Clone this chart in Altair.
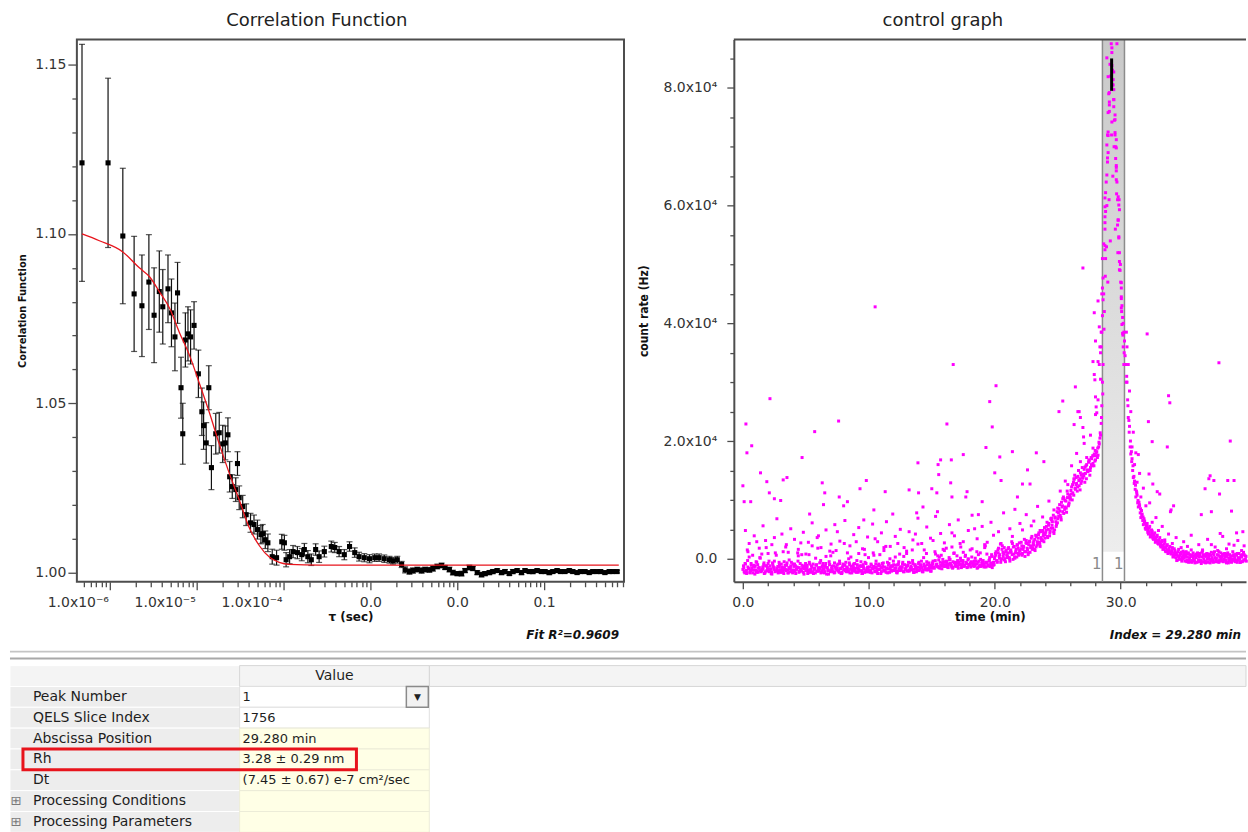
import altair as alt
import numpy as np
import pandas as pd

FONT = "DejaVu Sans"
NARROW = "Liberation Sans Narrow, DejaVu Sans Condensed, DejaVu Sans"
FRAME = "#4d4d4d"
LBL = "#333333"

# ===================== Correlation function panel =====================
# (log10 tau [s], g2(tau), error)
cf_points = [
    (-6.32, 1.1210, 0.035), (-6.02, 1.1210, 0.025), (-5.85, 1.0994, 0.020), (-5.72, 1.0823, 0.017),
    (-5.63, 1.0788, 0.015), (-5.55, 1.0858, 0.014), (-5.49, 1.0760, 0.014), (-5.43, 1.0830, 0.012),
    (-5.39, 1.0785, 0.011), (-5.33, 1.0838, 0.010), (-5.29, 1.0767, 0.010), (-5.25, 1.0696, 0.010),
    (-5.22, 1.0826, 0.009), (-5.18, 1.0546, 0.009), (-5.16, 1.0410, 0.009), (-5.13, 1.0687, 0.008),
    (-5.10, 1.0705, 0.008), (-5.07, 1.0696, 0.008), (-5.03, 1.0730, 0.007), (-4.98, 1.0587, 0.007),
    (-4.94, 1.0475, 0.007), (-4.92, 1.0434, 0.007), (-4.89, 1.0383, 0.006), (-4.86, 1.0546, 0.0065),
    (-4.83, 1.0310, 0.0065), (-4.78, 1.0410, 0.006), (-4.74, 1.0413, 0.006), (-4.70, 1.0380, 0.0055),
    (-4.67, 1.0383, 0.005), (-4.64, 1.0407, 0.005), (-4.62, 1.0283, 0.0045), (-4.59, 1.0254, 0.0035),
    (-4.55, 1.0245, 0.0035), (-4.53, 1.0322, 0.0035), (-4.51, 1.0221, 0.0035), (-4.47, 1.0195, 0.0033),
    (-4.43, 1.0171, 0.0032), (-4.38, 1.0147, 0.0028), (-4.34, 1.0142, 0.0028), (-4.30, 1.0127, 0.0028),
    (-4.26, 1.0112, 0.0027), (-4.24, 1.0115, 0.0027), (-4.21, 1.0097, 0.0026), (-4.18, 1.0088, 0.0026),
    (-4.13, 1.0047, 0.0022), (-4.08, 1.0044, 0.0022), (-4.02, 1.0091, 0.0022), (-3.99, 1.0088, 0.0022),
    (-3.97, 1.0038, 0.0021), (-3.93, 1.0047, 0.0021), (-3.89, 1.0062, 0.0018), (-3.84, 1.0059, 0.0018),
    (-3.79, 1.0053, 0.0018), (-3.76, 1.0068, 0.0018), (-3.72, 1.0047, 0.0018), (-3.68, 1.0038, 0.0017),
    (-3.63, 1.0068, 0.0017), (-3.59, 1.0047, 0.0017), (-3.53, 1.0062, 0.0016), (-3.45, 1.0077, 0.0016),
    (-3.41, 1.0074, 0.0015), (-3.36, 1.0062, 0.0015), (-3.30, 1.0053, 0.0015), (-3.24, 1.0077, 0.0014),
    (-3.18, 1.0059, 0.0014), (-3.13, 1.0047, 0.0013), (-3.07, 1.0044, 0.0012), (-3.01, 1.0041, 0.0012),
    (-2.95, 1.0044, 0.0011), (-2.90, 1.0044, 0.0011), (-2.84, 1.0041, 0.0011), (-2.78, 1.0038, 0.0010),
    (-2.74, 1.0035, 0.0010), (-2.69, 1.0038, 0.0010), (-2.64, 1.0024, 0.0009), (-2.60, 1.0008, 0.0009),
    (-2.55, 1.0003, 0.0008),
    (-2.51, 1.0006, 0.0008), (-2.46, 1.0009, 0.0007), (-2.41, 1.0006, 0.0008), (-2.37, 1.0009, 0.0007),
    (-2.32, 1.0008, 0.0007), (-2.28, 1.0012, 0.0008), (-2.23, 1.0018, 0.0007), (-2.18, 1.0021, 0.0007),
    (-2.14, 1.0015, 0.0006), (-2.09, 1.0009, 0.0007), (-2.05, 1.0000, 0.0007), (-2.00, 0.9997, 0.0006),
    (-1.95, 0.9997, 0.0007), (-1.91, 1.0006, 0.0006), (-1.86, 1.0015, 0.0007), (-1.82, 1.0012, 0.0006),
    (-1.77, 1.0000, 0.0006), (-1.72, 0.9994, 0.0007), (-1.68, 0.9997, 0.0006), (-1.63, 1.0000, 0.0006),
    (-1.59, 1.0003, 0.0006), (-1.54, 1.0006, 0.0005), (-1.49, 1.0000, 0.0006), (-1.45, 1.0003, 0.0006),
    (-1.40, 0.9997, 0.0005), (-1.36, 1.0003, 0.0006), (-1.31, 1.0006, 0.0005), (-1.26, 1.0000, 0.0006),
    (-1.22, 1.0006, 0.0005), (-1.17, 1.0003, 0.0005), (-1.13, 1.0003, 0.0006), (-1.08, 1.0006, 0.0005),
    (-1.03, 1.0003, 0.0005), (-0.99, 1.0003, 0.0005), (-0.94, 1.0000, 0.0006), (-0.90, 1.0003, 0.0005),
    (-0.85, 1.0006, 0.0005), (-0.81, 1.0003, 0.0005), (-0.76, 1.0003, 0.0004), (-0.71, 1.0006, 0.0005),
    (-0.67, 1.0003, 0.0005), (-0.62, 1.0000, 0.0004), (-0.58, 1.0003, 0.0005), (-0.53, 1.0003, 0.0005),
    (-0.48, 1.0000, 0.0004), (-0.44, 1.0003, 0.0005), (-0.39, 1.0003, 0.0004), (-0.35, 1.0003, 0.0005),
    (-0.30, 1.0000, 0.0004), (-0.25, 1.0003, 0.0004), (-0.21, 1.0003, 0.0005), (-0.16, 1.0003, 0.0004),
]

fit_log_tau = [-6.32, -6.12, -5.85, -5.66, -5.54, -5.43, -5.31, -5.20, -5.08, -4.97, -4.85,
               -4.74, -4.62, -4.51, -4.39, -4.28, -4.16, -4.05, -3.93, -3.59, -0.14]
fit_value = [1.100, 1.098, 1.0947, 1.090, 1.0873, 1.083, 1.078, 1.071, 1.064, 1.056, 1.047,
             1.038, 1.029, 1.0215, 1.013, 1.008, 1.0045, 1.003, 1.0024, 1.0022, 1.0022]
fit_r2 = 0.9609

# ===================== Control graph panel =====================
# dense traces, one row per minute, 10 samples per minute, in units of 100 Hz
grid_step = 0.1
band_a_rows = [
    [-18, -22, -9, -25, -14, 3, -20, -16, -24, -11],
    [-19, -6, -23, -15, -21, 8, -17, -25, -12, -20],
    [-8, -22, -18, -26, -13, -4, -21, -16, -24, -10],
    [-19, -23, 12, -15, -20, -7, -24, -17, -12, -22],
    [-19, -9, -25, -14, 5, -21, -18, -11, -23, -16],
    [-20, -14, -23, -9, -18, 22, -25, -16, -11, -21],
    [-19, -7, -24, -13, -17, -22, 4, -15, -26, -10],
    [-20, -18, -12, -23, 14, -16, -21, -8, -25, -14],
    [-19, -11, -22, -17, 0, -24, -13, -20, -9, -18],
    [-23, -15, 9, -21, -12, -25, -17, -6, -22, -14],
    [-19, -23, -11, -17, 6, -21, -14, -25, -9, -18],
    [-22, -13, 19, -20, -16, -24, -8, -15, -21, -12],
    [-19, 3, -23, -10, -17, -20, -14, -6, -22, -18],
    [13, -11, -21, -16, -19, -8, -23, -13, -17, 25],
    [-20, -10, -15, -22, -12, -18, -5, -19, -14, -21],
    [-12, -4, -16, 8, -9, -14, 3, -11, -17, -6],
    [14, -13, -8, -15, -2, -10, 20, -14, -7, -12],
    [5, -16, -9, -3, -13, 11, -11, -6, -15, 0],
    [-10, -14, 17, -8, -12, -4, -16, 7, -11, -13],
    [-5, -9, 24, -14, -7, -12, 2, -10, -15, -6],
    [3, 12, -6, 18, 7, -2, 22, 9, 0, 14],
    [5, 19, -4, 11, 26, 8, 1, 16, 23, 6],
    [13, 28, 9, 20, 4, 31, 15, 24, 11, 35],
    [19, 30, 14, 38, 25, 44, 21, 33, 48, 29],
    [41, 55, 36, 60, 47, 66, 52, 43, 71, 58],
    [68, 85, 74, 96, 80, 102, 88, 79, 110, 95],
    [104, 122, 112, 135, 118, 128, 140, 124, 146, 132],
    [138, 152, 145, 160, 148, 166, 155, 170, 162, 178],
    [168, 182, 176, 195, 210, 260, 330, 420, 510, 600],
    [690, 760, 820, 860, 805, 745, 700, 640, 575, 520],
    [470, 430, 400, 370, 330, 300, 240, 225, 178, 170],
    [138, 132, 105, 108, 88, 90, 70, 76, 58, 64],
    [50, 60, 42, 55, 38, 47, 33, 44, 30, 40],
    [25, 36, 20, 31, 17, 28, 12, 24, 15, 21],
    [8, 19, 4, 14, 10, -2, 16, 6, 11, 0],
    [9, -4, 12, 3, -6, 7, 15, -3, 5, -7],
    [2, 10, -5, 6, -8, 13, 0, -4, 8, -6],
    [4, -7, 11, -2, 7, -5, 1, 14, -6, 3],
    [-4, 8, -1, 5, -7, 10, -3, 2, -6, 12],
    [0, -5, 6, -2, 9, -6, 3, -4, 7, -1],
]
# sampled half a step later
band_b_rows = [
    [-12, -24, -20, 15, -17, -23, -8, -19, -13, -26],
    [-5, -21, -16, 2, -22, -18, -10, -24, 19, -15],
    [-21, -12, -25, -7, -18, -22, 6, -20, -14, -23],
    [-9, -17, -25, -11, 24, -19, -15, -22, -6, -24],
    [-13, -20, -17, 10, -23, -8, -21, -16, -26, -12],
    [-16, -25, 7, -19, -12, -22, -17, -24, -10, 18],
    [-21, -15, -23, -8, -18, -13, -26, -20, -5, -22],
    [-16, 11, -24, -14, -19, -9, -23, -17, -25, -12],
    [26, -20, -15, -22, -7, -18, -24, -11, -21, -16],
    [-3, -23, -19, -13, -25, -10, 16, -20, -17, -22],
    [-14, -20, -24, 10, -16, -9, -22, -18, -12, -25],
    [-15, -7, -21, 21, -17, -11, -23, -19, -13, -4],
    [-20, -16, -24, -9, 8, -18, -14, -22, -10, -17],
    [-21, -6, -19, -13, 15, -23, -11, -16, -20, -8],
    [-18, -12, -22, 2, -15, -19, -10, -17, -13, -21],
    [-7, -15, 12, -10, -13, -2, -16, 6, -8, -12],
    [-5, 18, -14, -9, -1, -11, -16, 9, -6, -13],
    [-3, -10, 26, -15, -8, -12, 4, -7, -14, -10],
    [15, -5, -11, -13, 1, -9, -15, -4, 10, -12],
    [-8, -14, 22, -6, -11, -3, -13, 7, -9, -10],
    [9, -3, 15, 4, 25, 0, 11, 19, -5, 7],
    [17, 2, 13, 29, -1, 21, 10, 3, 18, 27],
    [8, 22, 16, 33, 12, 26, 7, 29, 19, 38],
    [27, 16, 40, 23, 35, 28, 46, 31, 39, 53],
    [45, 62, 50, 39, 68, 57, 74, 49, 63, 80],
    [78, 92, 70, 88, 105, 84, 98, 115, 90, 108],
    [116, 100, 130, 142, 126, 115, 150, 136, 128, 155],
    [144, 130, 158, 150, 164, 142, 172, 158, 175, 166],
    [180, 172, 190, 205, 230, 300, 450, 560, 640, 720],
    [790, 840, 875, 830, 780, 720, 665, 610, 545, 490],
    [445, 410, 385, 345, 300, 270, 235, 190, 182, 150],
    [140, 118, 115, 95, 96, 78, 82, 65, 68, 52],
    [56, 45, 52, 37, 49, 35, 41, 28, 37, 26],
    [32, 22, 29, 16, 25, 13, 22, 9, 18, 11],
    [14, 3, 17, 7, -3, 12, 2, 9, -4, 13],
    [1, 11, -5, 8, -2, 4, -6, 10, -3, 6],
    [-6, 7, 3, -3, 11, -5, 5, -7, 9, 1],
    [8, -3, 2, -6, 12, 0, -5, 6, -2, 10],
    [3, -5, 9, -2, 4, -7, 7, 0, -4, 5],
    [-3, 8, -6, 2, -1, 6, -5, 11, -2, 4],
]
# sampled three quarters of a step later
band_c_rows = [
    [-15, -8, -21, -3, -17, -24, -11, 6, -19, -13],
    [-23, -10, -16, 1, -20, -14, -7, -22, -12, -18],
    [-4, -17, -23, -9, -15, 10, -20, -13, -6, -19],
    [-14, -21, -5, -18, -11, -24, -2, -16, -20, -9],
    [-22, -12, -18, -4, -15, -20, 7, -13, -17, -8],
    [-11, -19, -6, -23, -14, -9, -18, 1, -21, -15],
    [-17, -3, -20, -12, -24, -8, -15, -19, -10, 5],
    [-13, -22, -7, -17, -11, -20, -4, -16, -23, -9],
    [-18, -6, -14, -21, -10, 3, -19, -15, -8, -22],
    [-10, -18, -12, -5, -20, -14, -23, -8, -16, 2],
    [-21, -9, -16, -13, -22, -4, -18, -11, 7, -15],
    [-8, -19, -14, -23, -6, -17, 0, -12, -20, -10],
    [-16, -11, -21, -5, -14, -19, -9, 4, -17, -13],
    [-12, -20, -7, -15, -3, -18, -10, -22, -14, -6],
    [-15, -4, -19, -9, -13, 9, -17, -7, -11, -16],
    [-9, -14, -3, -11, 5, -15, -6, -12, -1, -13],
    [-10, -4, -12, 2, -8, -14, -5, 10, -11, -7],
    [-12, -6, 1, -10, -3, -13, 6, -8, -2, -11],
    [-7, 3, -11, -4, -9, 12, -6, -13, -1, -8],
    [-3, -10, -6, 8, -12, -2, -7, 4, -11, 0],
    [6, -4, 10, 1, -6, 16, 4, -2, 12, 2],
    [10, 0, 15, 7, 20, 3, 13, 24, 9, 14],
    [17, 6, 21, 12, 27, 18, 10, 30, 22, 16],
    [24, 33, 20, 29, 41, 26, 36, 31, 43, 35],
    [49, 38, 57, 44, 52, 63, 46, 69, 55, 61],
    [72, 81, 66, 90, 77, 99, 86, 104, 92, 101],
    [110, 126, 108, 120, 138, 122, 133, 117, 142, 137],
    [141, 156, 136, 151, 168, 150, 160, 175, 158, 184],
    [175, 188, 198, 214, 240, 280, 390, 480, 530, 470],
    [610, 540, 720, 650, 700, 560, 620, 520, 610, 500],
    [420, 380, 350, 330, 310, 260, 215, 200, 165, 158],
    [128, 125, 112, 99, 92, 85, 74, 71, 62, 60],
    [53, 48, 46, 41, 43, 38, 36, 33, 31, 29],
    [28, 26, 23, 21, 19, 18, 15, 14, 12, 10],
    [11, 6, 9, 2, 7, 4, -1, 8, 3, 5],
    [4, 7, -2, 10, 1, -5, 6, 2, -4, 8],
    [5, -2, 9, -4, 3, 7, -6, 4, -1, 6],
    [-1, 6, -4, 9, 2, -3, 7, -5, 4, 0],
    [6, -2, 3, -5, 8, 1, -4, 5, -1, 7],
    [2, -3, 9, 0, -6, 4, 7, -2, 5, -4],
]
# (time [min], count rate [kHz])
mid_pts = [
    (0.2, 4.8), (0.5, 2.6), (0.9, 3.9), (1.3, 1.8), (1.6, 5.6), (1.8, 3.1), (2.3, 2.4), (2.7, 6.8),
    (3.1, 4.2), (3.4, 2.0), (3.8, 5.1), (4.1, 3.3), (4.4, 1.6), (4.8, 4.5), (5.2, 2.8), (5.5, 6.1),
    (5.9, 3.6), (6.2, 1.9), (6.6, 4.9), (7.0, 2.5), (7.3, 5.8), (7.7, 3.0), (8.1, 6.5), (8.5, 2.2),
    (8.8, 4.1), (9.2, 5.3), (9.5, 1.7), (9.9, 3.7), (10.3, 5.9), (10.7, 2.9), (11.0, 4.4), (11.4, 6.3),
    (11.7, 2.1), (12.1, 3.8), (12.5, 5.0), (12.8, 1.9), (13.2, 4.6), (13.5, 3.2), (13.9, 6.9), (14.2, 2.6),
    (14.6, 5.4), (14.9, 3.5), (15.3, 7.2), (15.7, 4.3), (16.0, 2.7), (16.4, 5.8), (16.8, 3.9), (17.1, 6.6),
    (17.5, 2.9), (17.9, 4.8), (18.2, 7.4), (18.6, 3.4), (19.0, 5.5), (19.4, 2.8), (19.7, 6.2), (20.3, 4.6),
    (20.7, 7.8), (21.2, 5.1), (21.6, 8.4), (22.0, 6.0), (22.5, 7.5), (22.9, 5.6), (23.4, 8.9), (23.8, 7.1),
    (24.3, 9.8), (24.7, 8.3), (25.2, 11.5), (25.6, 13.2), (26.1, 15.8), (26.5, 17.9), (27.1, 19.6),
    (27.6, 21.0), (28.0, 24.5), (28.2, 27.0), (28.3, 33.0), (28.4, 30.5), (28.45, 36.0), (30.45, 38.5),
    (30.5, 36.0), (30.6, 33.0), (30.7, 28.5), (30.8, 25.0), (31.0, 21.5), (31.2, 18.0), (31.5, 14.5),
    (31.8, 12.0), (32.3, 9.5), (32.8, 7.0), (33.3, 5.5), (33.8, 4.2), (34.4, 3.6), (35.0, 2.9),
    (35.6, 4.0), (36.2, 2.4), (36.9, 3.3), (37.5, 2.0), (38.1, 3.8), (38.6, 2.5), (39.3, 3.1), (39.8, 2.2),
    (0.4, 1.2), (1.1, 2.9), (2.0, 0.9), (2.5, 3.6), (3.6, 1.1), (4.6, 2.7), (5.0, 0.8), (6.0, 3.9),
    (6.9, 1.3), (7.5, 4.6), (8.3, 1.0), (9.0, 2.9), (9.7, 0.7), (10.5, 3.4), (11.2, 1.4), (12.3, 2.6),
    (13.0, 0.9), (13.7, 4.2), (14.4, 1.5), (15.1, 3.1), (15.9, 1.6), (16.6, 4.4), (17.3, 2.0), (18.4, 5.1),
    (19.2, 1.9), (19.9, 4.0), (20.5, 2.6), (21.4, 3.8), (22.2, 4.9), (23.1, 6.4), (23.6, 4.8), (24.5, 6.9),
    (25.0, 8.6), (25.4, 10.2), (25.8, 12.6), (26.3, 13.6), (26.8, 16.5), (27.3, 17.2), (27.8, 18.8),
    (30.9, 19.0), (31.1, 16.0), (31.3, 13.0), (31.6, 10.5), (32.0, 9.0), (32.5, 6.2), (33.0, 4.8),
    (33.5, 3.2), (34.1, 2.6), (34.8, 1.9), (35.3, 2.1), (36.5, 1.5), (37.2, 2.4), (37.8, 1.2),
    (38.4, 1.7), (39.0, 2.3), (39.6, 1.4),
]
spike_pts = [
    (0.0, 12.4), (0.1, 9.7), (0.24, 22.9), (0.32, 18.0), (0.62, 9.7), (0.7, 19.2), (1.4, 14.6),
    (1.9, 13.1), (2.1, 11.2), (2.15, 27.2), (2.5, 10.2), (3.0, 9.9), (3.2, 13.4), (3.5, 13.8),
    (4.7, 17.2), (5.3, 7.6), (5.7, 21.6), (6.3, 12.9), (6.4, 9.2), (6.5, 11.2), (7.6, 23.4),
    (7.65, 10.5), (8.0, 9.0), (8.3, 9.7), (9.3, 11.9), (9.6, 6.6), (9.8, 13.3), (10.4, 8.3),
    (10.5, 42.8), (11.3, 11.4), (11.9, 7.6), (13.2, 11.7), (13.8, 7.8), (13.9, 16.3), (13.95, 11.2),
    (14.3, 8.8), (15.0, 11.9), (15.4, 11.2), (15.45, 8.0), (15.5, 16.0), (15.55, 14.3), (15.7, 16.8),
    (16.2, 22.9), (16.5, 12.9), (16.55, 16.8), (16.6, 10.5), (16.7, 33.0), (17.5, 17.7), (17.7, 10.5),
    (17.8, 11.4), (18.7, 7.5), (19.0, 9.7), (19.3, 18.9), (19.6, 26.7), (19.8, 22.4), (20.0, 14.6),
    (20.1, 29.4), (20.4, 17.3), (20.5, 13.3), (21.4, 18.2), (21.8, 10.5), (22.2, 12.7), (22.6, 15.1),
    (22.8, 12.7), (23.3, 18.0), (23.9, 16.5), (25.1, 25.0), (25.4, 26.8), (26.3, 22.8), (26.4, 29.2),
    (26.6, 25.0), (26.7, 25.0), (26.8, 24.0), (27.0, 22.3), (27.0, 49.4), (27.05, 20.7), (27.8, 33.5),
    (27.9, 31.3), (27.95, 30.4), (28.0, 27.5), (28.05, 25.8), (28.1, 24.8), (28.2, 33.5), (31.4, 17.7),
    (32.1, 38.2), (32.2, 23.3), (32.25, 14.4), (32.5, 19.9), (32.55, 12.7), (32.9, 11.4), (33.1, 11.0),
    (33.7, 19.0), (33.8, 27.7), (33.9, 26.5), (33.95, 8.0), (34.0, 8.3), (34.2, 9.0), (36.4, 7.5),
    (36.7, 11.9), (37.0, 13.6), (37.1, 14.1), (37.2, 8.0), (37.4, 13.3), (37.8, 33.3), (37.85, 11.0),
    (37.9, 4.3), (38.5, 13.3), (38.7, 20.0), (38.8, 8.1), (39.0, 13.3), (39.2, 4.4), (39.7, 4.6),
]
peak_pts = [
    (27.9, 41.8), (28.0, 37.0), (28.2, 43.8), (28.3, 39.4), (28.35, 36.0), (28.4, 35.0), (28.45, 38.5),
    (28.5, 45.0), (28.5, 38.5), (28.55, 51.0), (28.55, 46.0), (28.55, 41.3), (28.6, 47.7), (28.6, 44.0),
    (28.65, 53.5), (28.75, 61.3), (28.75, 59.8), (28.75, 58.1), (28.75, 57.1), (28.75, 53.2),
    (28.75, 52.5), (28.8, 62.2), (28.8, 59.0), (28.9, 85.1), (28.9, 70.3), (28.9, 65.2), (28.95, 68.1),
    (28.95, 67.4), (29.0, 81.9), (29.0, 75.8), (29.0, 72.5), (29.0, 71.9), (29.1, 79.2), (29.1, 77.6),
    (29.1, 77.1), (29.3, 86.8), (29.3, 83.8), (29.3, 74.2), (29.35, 80.5), (29.4, 81.4), (29.45, 82.7),
    (29.45, 79.7), (29.45, 78.0), (29.45, 76.8), (29.55, 75.4), (29.55, 74.6), (29.55, 72.4),
    (29.6, 68.0), (29.65, 71.2), (29.65, 69.8), (29.65, 66.8), (29.65, 65.9), (29.65, 64.4), (29.7, 87.5),
    (29.75, 56.7), (29.8, 61.5), (29.8, 57.6), (29.85, 60.1), (29.85, 54.7), (29.9, 59.3), (29.9, 50.5),
    (29.9, 49.1), (30.05, 46.9), (30.05, 46.0), (30.05, 44.2), (30.05, 42.6), (30.1, 39.8), (30.15, 38.3),
    (30.2, 36.0), (30.25, 33.0),
]
peak_start, peak_end = 28.55, 30.30
peak_label = "1"
index_time = 29.280
index_lo, index_hi = 79.5, 85.0   # kHz

# ===================== Results table =====================
tbl_labels = ["", "Peak Number", "QELS Slice Index", "Abscissa Position", "Rh", "Dt",
              "Processing Conditions", "Processing Parameters"]
tbl_values = ["Value", "1", "1756", "29.280 min", "3.28 \u00b1 0.29 nm",
              "(7.45 \u00b1 0.67) e-7 cm\u00b2/sec", "", ""]

# ===================== build =====================
def ax(**kw):
    base = dict(grid=False, labelFont=FONT, labelFontSize=14, labelColor=LBL, tickColor=FRAME,
                tickWidth=1.3, labelOverlap=False, labelFlush=False, titleColor="#111111")
    base.update(kw)
    return alt.Axis(**base)

# ---- left panel ----
W1, H1 = 548, 543
tau_lo, tau_hi = 10 ** -6.379, 10 ** -0.08
cf = pd.DataFrame(cf_points, columns=["lt", "g", "err"])
cf["tau"] = np.power(10.0, cf["lt"])
cf["lo"] = cf["g"] - cf["err"]
cf["hi"] = cf["g"] + cf["err"]
fit = pd.DataFrame({"tau": np.power(10.0, fit_log_tau), "g": fit_value})

tau_ticks = [k * 10.0 ** d for d in range(-7, 0) for k in range(1, 10)]
tau_ticks = [v for v in tau_ticks if tau_lo <= v <= tau_hi]
g_ticks = [round(1.0 + 0.01 * i, 2) for i in range(16)]

LOGV = "(log(datum.value)/LN10)"
DEC = f"abs({LOGV} - round({LOGV})) < 0.01"
x_lab = (f"({DEC}) ? (datum.value < 0.0005 ? ('1.0x10' + (round({LOGV}) == -6 ? '\u207b\u2076' : "
         f"round({LOGV}) == -5 ? '\u207b\u2075' : '\u207b\u2074')) : format(datum.value, '.1f')) : ''")
x_ax_l = ax(values=tau_ticks, labelExpr=x_lab,
            tickSize={"condition": {"test": DEC, "value": 8}, "value": 5},
            labelOffset={"condition": {"test": "datum.value < 0.0005", "value": -32}, "value": 0},
            labelPadding=6, domain=False, title="\u03c4 (sec)", titleFont=FONT, titleFontSize=12,
            titleFontWeight="bold", titlePadding=5, minExtent=25, maxExtent=25)
G_MAJ = "round(datum.value*100) % 5 == 0"
y_ax_l = ax(values=g_ticks, labelExpr=f"{G_MAJ} ? format(datum.value, '.2f') : ''",
            tickSize={"condition": {"test": G_MAJ, "value": 9}, "value": 5},
            labelPadding=2, domain=False, title="Correlation Function", titleFont=NARROW,
            titleFontSize=11, titleFontWeight="bold", titlePadding=7, minExtent=42, maxExtent=42)

xs = alt.Scale(type="log", domain=[tau_lo, tau_hi], nice=False)
ys = alt.Scale(domain=[0.9973, 1.1574], nice=False, zero=False)
xL = alt.X("tau:Q", scale=xs, axis=x_ax_l)

one = pd.DataFrame({"k": [0]})
spacer_l = alt.Chart(one).mark_rule(color="white", strokeWidth=1).encode(
    x=alt.value(-67), y=alt.value(0), y2=alt.value(20))
bars = alt.Chart(cf).mark_rule(color="#111111", strokeWidth=1.2).encode(
    x=xL, y=alt.Y("lo:Q", scale=ys, axis=y_ax_l), y2="hi:Q")
cap_lo = alt.Chart(cf).mark_tick(color="#111111", orient="horizontal", size=6, thickness=1.2).encode(
    x=xL, y=alt.Y("lo:Q", scale=ys, axis=y_ax_l))
cap_hi = alt.Chart(cf).mark_tick(color="#111111", orient="horizontal", size=6, thickness=1.2).encode(
    x=xL, y=alt.Y("hi:Q", scale=ys, axis=y_ax_l))
pts = alt.Chart(cf).mark_square(color="black", size=26, opacity=1).encode(
    x=xL, y=alt.Y("g:Q", scale=ys, axis=y_ax_l))
fitline = alt.Chart(fit).mark_line(color="#e8141c", strokeWidth=1.3, interpolate="monotone").encode(
    x=xL, y=alt.Y("g:Q", scale=ys, axis=y_ax_l))
foot_l = alt.Chart(pd.DataFrame({"s": [f"Fit R\u00b2={fit_r2:.4f}"]})).mark_text(
    align="right", baseline="middle", font=FONT, fontSize=12, fontStyle="italic", fontWeight="bold",
    color="#111111").encode(text="s:N", x=alt.value(W1 - 5), y=alt.value(H1 + 53))

left = alt.layer(spacer_l, bars, cap_lo, cap_hi, pts, fitline, foot_l).properties(
    width=W1, height=H1,
    title=alt.TitleParams("Correlation Function", font=FONT, fontSize=18, fontWeight="normal",
                          color="#222222", anchor="middle", frame="bounds", offset=9),
    view=alt.ViewBackground(stroke=FRAME, strokeWidth=2, strokeOpacity=1),
)

# ---- right panel ----
W2, H2 = 513, 543
band_a = [v for row in band_a_rows for v in row]
band_b = [v for row in band_b_rows for v in row]
band_c = [v for row in band_c_rows for v in row]
assert len(band_a) == 400 and len(band_b) == 400 and len(band_c) == 400
t_a = grid_step * np.arange(len(band_a))
ctrl = pd.concat([
    pd.DataFrame({"t": t_a, "c": np.array(band_a) * 100.0}),
    pd.DataFrame({"t": t_a + grid_step / 2, "c": np.array(band_b) * 100.0}),
    pd.DataFrame({"t": t_a + grid_step * 0.75, "c": np.array(band_c) * 100.0}),
    pd.DataFrame(mid_pts, columns=["t", "k"]).assign(c=lambda d: d.k * 1000.0)[["t", "c"]],
    pd.DataFrame(spike_pts, columns=["t", "k"]).assign(c=lambda d: d.k * 1000.0)[["t", "c"]],
    pd.DataFrame(peak_pts, columns=["t", "k"]).assign(c=lambda d: d.k * 1000.0)[["t", "c"]],
], ignore_index=True)

ts = alt.Scale(domain=[-0.72, 39.95], nice=False, zero=False)
cs = alt.Scale(domain=[-3900, 88200], nice=False, zero=False)
T_MAJ = "datum.value % 10 == 0"
x_ax_r = ax(values=list(range(0, 40, 2)), labelExpr=f"{T_MAJ} ? format(datum.value, '.1f') : ''",
            tickSize={"condition": {"test": T_MAJ, "value": 7}, "value": 4},
            labelPadding=7, domain=True, domainColor=FRAME, domainWidth=2,
            title="time (min)", titleFont=FONT, titleFontSize=12, titleFontWeight="bold",
            titlePadding=5, minExtent=25, maxExtent=25)
C_MAJ = "datum.value % 20000 == 0"
y_ax_r = ax(values=list(range(0, 90000, 5000)),
            labelExpr=(f"{C_MAJ} ? (datum.value == 0 ? '0.0' : format(datum.value/10000, '.1f') + 'x10\u2074') : ''"),
            tickSize={"condition": {"test": C_MAJ, "value": 7}, "value": 4},
            labelPadding=10, domain=True, domainColor=FRAME, domainWidth=2,
            title="count rate (Hz)", titleFont=NARROW, titleFontSize=12, titleFontWeight="bold",
            titlePadding=12, minExtent=71, maxExtent=71)

pk = pd.DataFrame({"start": [peak_start], "end": [peak_end]})
edges = pd.DataFrame({"edge": [peak_start, peak_end], "lab": [peak_label, peak_label]})
idx = pd.DataFrame({"t": [index_time], "lo": [index_lo * 1000], "hi": [index_hi * 1000]})

band_fill = alt.Gradient(gradient="linear",
                         stops=[alt.GradientStop(color="#c9c9c9", offset=0),
                                alt.GradientStop(color="#ededed", offset=1)],
                         x1=0, x2=0, y1=0, y2=1)
band = alt.Chart(pk).mark_rect(fill=band_fill).encode(
    x=alt.X("start:Q", scale=ts, axis=x_ax_r), x2="end:Q", y=alt.value(0), y2=alt.value(H2 - 30))
edge_lines = alt.Chart(edges).mark_rule(color="#8c8c8c", strokeWidth=1.5).encode(
    x=alt.X("edge:Q", scale=ts, axis=x_ax_r), y=alt.value(0), y2=alt.value(H2))
edge_labels = alt.Chart(edges).mark_text(align="right", baseline="middle", dx=-1, font=FONT,
                                         fontSize=15, color="#8a8a8a").encode(
    x=alt.X("edge:Q", scale=ts, axis=x_ax_r), y=alt.value(H2 - 18), text="lab:N")
dots = alt.Chart(ctrl).mark_square(color="#ff00ff", size=9, opacity=1).encode(
    x=alt.X("t:Q", scale=ts, axis=x_ax_r), y=alt.Y("c:Q", scale=cs, axis=y_ax_r))
idx_bar = alt.Chart(idx).mark_rule(color="black", strokeWidth=3).encode(
    x=alt.X("t:Q", scale=ts, axis=x_ax_r), y=alt.Y("lo:Q", scale=cs, axis=y_ax_r), y2="hi:Q")
top_line = alt.Chart(one).mark_rule(color=FRAME, strokeWidth=2).encode(
    x=alt.value(0), x2=alt.value(W2), y=alt.value(0))
foot_r = alt.Chart(pd.DataFrame({"s": [f"Index = {index_time:.3f} min"]})).mark_text(
    align="right", baseline="middle", font=FONT, fontSize=12, fontStyle="italic", fontWeight="bold",
    color="#111111").encode(text="s:N", x=alt.value(W2 - 5), y=alt.value(H2 + 53))

right = alt.layer(band, edge_lines, edge_labels, dots, idx_bar, top_line, foot_r).properties(
    width=W2, height=H2,
    title=alt.TitleParams("control graph", font=FONT, fontSize=18, fontWeight="normal",
                          color="#222222", anchor="middle", frame="bounds", offset=9),
)

# ---- table (its origin lines up with the left plot's left edge, page x = 77) ----
TX0 = 77
WT, HT = 1248 - TX0, 167
def px(x):
    return x - TX0

tbl = pd.DataFrame({"row": list(range(len(tbl_labels))), "label": tbl_labels, "value": tbl_values})
yrow = alt.Y("row:O", scale=alt.Scale(paddingInner=0, paddingOuter=0), axis=None)
tb = alt.Chart(tbl)

sep1 = alt.Chart(one).mark_rule(color="#c4c4c4", strokeWidth=2).encode(
    x=alt.value(px(10)), x2=alt.value(WT), y=alt.value(-14))
sep2 = alt.Chart(one).mark_rule(color="#a8a8a8", strokeWidth=2).encode(
    x=alt.value(px(10)), x2=alt.value(WT), y=alt.value(-7))
hdr_ext = tb.transform_filter("datum.row == 0").mark_rect(fill="#f4f4f4", stroke="#d6d6d6", strokeWidth=1).encode(
    x=alt.value(px(430)), x2=alt.value(WT), y=yrow)
lab_cells = tb.mark_rect(stroke="#ffffff", strokeWidth=1).encode(
    x=alt.value(px(10)), x2=alt.value(px(240)), y=yrow,
    fill=alt.condition("datum.row == 0", alt.value("#f4f4f4"), alt.value("#ededed")))
val_hdr = tb.transform_filter("datum.row == 0").mark_rect(fill="#f4f4f4", stroke="#d6d6d6", strokeWidth=1).encode(
    x=alt.value(px(240)), x2=alt.value(px(430)), y=yrow)
val_white = tb.transform_filter("datum.row >= 1 && datum.row <= 2").mark_rect(
    fill="#ffffff", stroke="#e0e0e0", strokeWidth=1).encode(
    x=alt.value(px(240)), x2=alt.value(px(430)), y=yrow)
val_yellow = tb.transform_filter("datum.row >= 3").mark_rect(
    fill="#ffffe6", stroke="#ececd8", strokeWidth=1).encode(
    x=alt.value(px(240)), x2=alt.value(px(430)), y=yrow)
lab_text = tb.mark_text(align="left", baseline="middle", font=FONT, fontSize=14, color="#1e1e1e").encode(
    x=alt.value(px(33)), y=yrow, text="label:N")
val_text = tb.transform_filter("datum.row > 0").mark_text(
    align="left", baseline="middle", font=FONT, fontSize=13, color="#1e1e1e").encode(
    x=alt.value(px(243)), y=yrow, text="value:N")
hdr_text = tb.transform_filter("datum.row == 0").mark_text(
    align="center", baseline="middle", font=FONT, fontSize=14, color="#1e1e1e").encode(
    x=alt.value(px(335)), y=yrow, text="value:N")
drop_box = tb.transform_filter("datum.row == 1").mark_rect(fill="#f2f2f2", stroke="#8a8a8a", strokeWidth=1.5).encode(
    x=alt.value(px(407)), x2=alt.value(px(429)), y=yrow)
drop_arrow = tb.transform_filter("datum.row == 1").mark_text(
    align="center", baseline="middle", font=FONT, fontSize=9, color="#222222", text="\u25bc").encode(
    x=alt.value(px(418)), y=yrow)
expand = tb.transform_filter("datum.row >= 6").mark_text(
    align="center", baseline="middle", font=FONT, fontSize=13, color="#7a7a7a", text="\u229e").encode(
    x=alt.value(px(16)), y=yrow)
red_box = tb.transform_filter("datum.row == 4").mark_rect(
    fillOpacity=0, stroke="#e8141c", strokeWidth=3).encode(
    x=alt.value(px(23)), x2=alt.value(px(357)), y=yrow)

table = alt.layer(sep1, sep2, hdr_ext, lab_cells, val_hdr, val_white, val_yellow, lab_text, val_text,
                  hdr_text, drop_box, drop_arrow, expand, red_box).properties(width=WT, height=HT)

top = alt.hconcat(left, right, spacing=13)
chart = alt.vconcat(top, table, spacing=9).properties(
    padding={"left": 8, "top": 10, "right": 0, "bottom": 0}, background="white"
).configure_view(strokeOpacity=0)

chart.save("out.html", embed_options={"renderer": "svg", "actions": False})
